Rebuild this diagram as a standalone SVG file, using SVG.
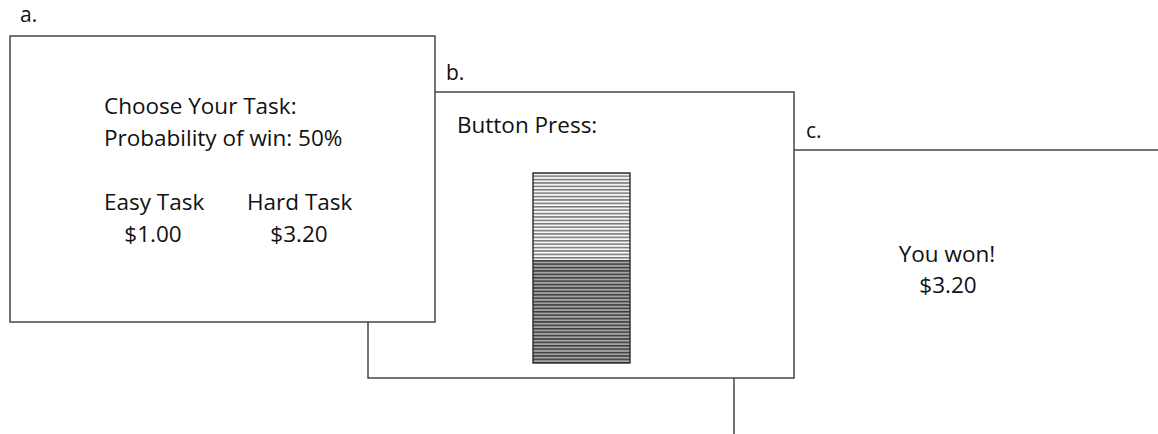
<svg xmlns="http://www.w3.org/2000/svg" width="1158" height="434" viewBox="0 0 1158 434">
  <style>
    .screen { fill: #ffffff; stroke: #3a3a3a; stroke-width: 1.4; }
    .txt { font-family: "Open Sans", "Liberation Sans", sans-serif; font-size: 22.5px; fill: #111111; }
    .lbl { font-family: "Open Sans", "Liberation Sans", sans-serif; font-size: 21px; fill: #111111; }
  </style>
  <defs>
    <!-- striped fill of the press meter: light upper half, dark lower half -->
    <pattern id="stripeLight" x="0" y="172" width="10" height="3.4" patternUnits="userSpaceOnUse">
      <rect width="10" height="3.4" fill="#f6f6f6"/>
      <rect y="0" width="10" height="1.5" fill="#777777"/>
    </pattern>
    <pattern id="stripeDark" x="0" y="260" width="10" height="3.4" patternUnits="userSpaceOnUse">
      <rect width="10" height="3.4" fill="#a4a4a4"/>
      <rect y="0" width="10" height="1.5" fill="#3c3c3c"/>
    </pattern>
  </defs>

  <!-- screen c: outcome -->
  <g id="screen-c">
    <rect class="screen" x="734" y="150" width="520" height="320"/>
    <text class="txt" x="947" y="262" text-anchor="middle">You won!</text>
    <text class="txt" x="948" y="293" text-anchor="middle">$3.20</text>
  </g>

  <!-- screen b: button press -->
  <g id="screen-b">
    <rect class="screen" x="368" y="92" width="426" height="286"/>
    <text class="txt" x="457" y="133">Button Press:</text>
    <rect x="533" y="173" width="97" height="87" fill="url(#stripeLight)"/>
    <rect x="533" y="260" width="97" height="103" fill="url(#stripeDark)"/>
    <rect x="533" y="173" width="97" height="190" fill="none" stroke="#2a2a2a" stroke-width="1.4"/>
  </g>

  <!-- screen a: task choice -->
  <g id="screen-a">
    <rect class="screen" x="10" y="36" width="425" height="286"/>
    <text class="txt" x="104" y="114">Choose Your Task:</text>
    <text class="txt" x="104" y="146">Probability of win: 50%</text>
    <text class="txt" x="104" y="210">Easy Task</text>
    <text class="txt" x="247" y="210">Hard Task</text>
    <text class="txt" x="153" y="242" text-anchor="middle">$1.00</text>
    <text class="txt" x="299" y="242" text-anchor="middle">$3.20</text>
  </g>

  <!-- panel letters -->
  <g id="labels">
    <text class="lbl" x="20" y="22">a.</text>
    <text class="lbl" x="446" y="80">b.</text>
    <text class="lbl" x="806" y="138">c.</text>
  </g>
</svg>
